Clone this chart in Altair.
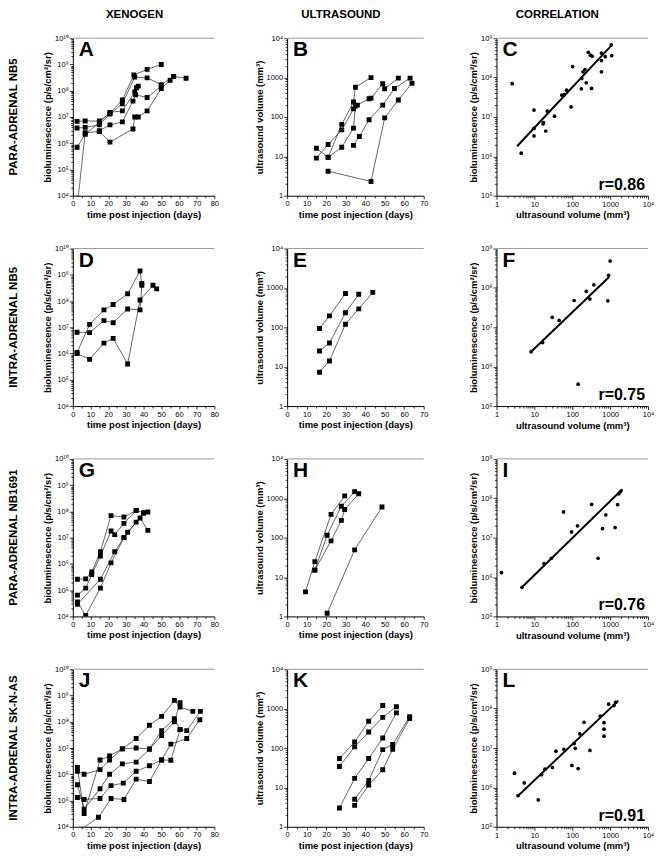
import altair as alt
import pandas as pd

FONT = "Liberation Sans"
W_XENO, W_US, W_COR = 142, 137, 152
H = 158

BIO_TITLE = "bioluminescence (p/s/cm²/sr)"
US_TITLE = "ultrasound volume (mm³)"
TIME_TITLE = "time post injection (days)"

HEADERS = ["XENOGEN", "ULTRASOUND", "CORRELATION"]
ROW_LABELS = ["PARA-ADRENAL NB5", "INTRA-ADRENAL NB5", "PARA-ADRENAL NB1691", "INTRA-ADRENAL SK-N-AS"]
LETTERS = ["A", "B", "C", "D", "E", "F", "G", "H", "I", "J", "K", "L"]
R_TEXT = ["r=0.86", "r=0.75", "r=0.76", "r=0.91"]

# ---------------- Row 1: para-adrenal NB5 ----------------
A_days = [
    [2.4, 7, 15, 21, 28, 34.5, 42, 50],
    [2.4, 7, 15, 21, 28, 35, 42, 50, 57, 64],
    [2.4, 7, 15, 21, 28, 35, 36, 37],
    [3, 7, 15, 21, 34, 35, 37, 42, 50, 55, 57],
    [15, 21, 28, 34, 35.5, 42, 50],
]
A_bio = [
    [6.8e6, 7e6, 7e6, 1.4e7, 4.5e7, 4e8, 6.5e8, 1e9],
    [3.8e6, 4e6, 5e6, 1.3e7, 3.2e7, 3.3e8, 3.1e8, 1.7e8, 3.5e8, 3e8],
    [7e5, 2.2e6, 6e6, 1.5e7, 1.7e7, 9e7, 1.3e8, 1.5e8],
    [8e3, 2.5e6, 2.8e6, 1.1e6, 3.5e6, 1e7, 1e7, 1.7e7, 1.2e8, 2.5e8, 3.5e8],
    [3e6, 5e6, 6.5e6, 4e7, 7e7, 5.5e7, 1.5e8],
]
B_days = [
    [15, 21, 28, 34, 35, 43],
    [15, 21, 28, 34, 36, 42, 43, 49, 50, 57],
    [21, 28, 34, 35],
    [34, 37, 42, 49, 55, 63],
    [21, 43, 50, 57, 64],
]
B_vol = [
    [16, 9.4, 65, 240, 570, 1000],
    [9, 20, 47, 160, 200, 290, 300, 700, 520, 970],
    [9.5, 17, 52, 190],
    [19, 32, 85, 200, 530, 970],
    [4.2, 2.3, 95, 270, 720],
]
C_us = [2.6, 4.5, 9.8, 9.8, 9.8, 17, 17.5, 20, 22, 34, 53, 62, 71, 93, 102,
        174, 178, 192, 216, 234, 323, 265, 300, 335, 590, 590, 590, 740, 1070, 1100]
C_bio = [7e7, 1.2e6, 1.5e7, 5.1e6, 3.3e6, 6.7e6, 7.2e6, 4.4e6, 1.4e7, 1.05e7, 3.6e7, 3.7e7, 4.8e7, 1.8e7, 1.9e8,
         5.2e7, 9.5e7, 1.4e8, 1.6e8, 7.4e7, 5.3e7, 4.4e8, 3.7e8, 3.5e8, 4.2e8, 2.7e8, 1.4e8, 3.4e8, 6.8e8, 3.6e8]
C_fit_us = [3.5, 1150]
C_fit_bio = [1.8e6, 7e8]

# ---------------- Row 2: intra-adrenal NB5 ----------------
D_days = [
    [2.4, 9.5, 17.6, 22.8, 31, 38, 39],
    [2.4, 9.5, 17.6, 22.8, 31, 38, 39],
    [2.4, 9.5, 17.6, 22.8, 31, 38, 45.3, 47.4],
]
D_bio = [
    [1.1e6, 1.3e7, 4.6e7, 7.4e7, 1.9e8, 1.4e9, 4.7e8],
    [6.5e6, 6.3e6, 1.8e7, 1.5e7, 5e7, 4.6e7, 4e8],
    [1e6, 6e5, 2.5e6, 3.8e6, 4e5, 1.1e8, 4e8, 2.9e8],
]
E_days = [[16.6, 21.7, 29.9], [16.6, 21.7, 29.9, 36.7], [16.6, 21.7, 29.9, 36.7, 43.9]]
E_vol = [[93, 195, 720], [25, 40, 235, 690], [7.2, 14, 120, 295, 770]]
F_us = [8.2, 16.5, 29.5, 45, 112, 143, 235, 293, 372, 870, 910, 1000]
F_bio = [2.4e6, 4.1e6, 1.8e7, 1.5e7, 4.8e7, 3.6e5, 8.2e7, 5.2e7, 1.2e8, 4.7e7, 2.1e8, 4.8e8]
F_fit_us = [8.2, 940]
F_fit_bio = [2.4e6, 1.9e8]

# ---------------- Row 3: para-adrenal NB1691 ----------------
G_days = [
    [2.6, 7.3, 10.7, 15.6, 21.6, 28.9, 35.8, 40, 42.4],
    [2.6, 7.3, 10.7, 15.6, 21.6, 23.7, 28.9, 35.8],
    [2.6, 7.3, 15.6, 21.6, 28.9, 31, 38, 42.4],
    [2.6, 15.6, 23.7, 28.9, 35.8, 40],
]
G_bio = [
    [2.6e5, 2.7e5, 4.9e5, 2.9e6, 6.9e7, 6.1e7, 1.1e8, 8.7e7, 9.5e7],
    [6.5e4, 1.2e5, 3.9e5, 2e6, 1.8e7, 1.3e7, 3.5e7, 1.1e8],
    [3.6e4, 1.1e4, 1.2e5, 1.1e6, 1e7, 1.6e7, 5.6e7, 1.9e7],
    [2.9e4, 2.6e5, 2.9e6, 1e7, 3.9e7, 8.7e7],
]
H_days = [[9.4, 14.2, 22.5, 29.5], [14.2, 20.5, 27.8, 34.6], [14.2, 22.5, 27.8, 29.5, 36.7], [20.5, 34.6, 48.6]]
H_vol = [[4.2, 24.6, 390, 1150], [15, 115, 630, 1480], [15, 83, 275, 520, 1300], [1.2, 49, 600]]
I_us = [1.35, 4.7, 18, 28, 59, 96, 138, 325, 480, 630, 770, 1350, 1580, 1700, 1900]
I_bio = [1.3e6, 5.5e5, 2.2e6, 3e6, 4.5e7, 1.4e7, 2e7, 7e7, 3e6, 1.7e7, 3.8e7, 1.8e7, 6.9e7, 1.3e8, 1.5e8]
I_fit_us = [4.7, 2100]
I_fit_bio = [5.5e5, 1.7e8]

# ---------------- Row 4: intra-adrenal SK-N-AS ----------------
J_days = [
    [2.6, 6.4, 15.4, 20.8, 28, 35.8, 43.3, 50.2, 57.4, 60.6, 67.8],
    [2.6, 6.4, 15.4, 20.8, 28, 35.8, 43.3, 50.2, 57.4, 60.6],
    [2.6, 6.4, 15.4, 20.8, 28, 35.8, 43.3, 50.2, 57.4, 60.6],
    [2.6, 6.4, 15.4, 21.6, 28.5, 35.8, 43.3, 50.2, 55.4, 64.4, 71.8],
    [4.8, 14.5, 21.6, 28.9, 35.8, 43.3, 50.2, 55.4, 60.6, 64.4, 72.1],
]
J_bio = [
    [1.3e6, 1e6, 1.5e6, 3.5e6, 9.3e6, 2.3e7, 7.4e7, 1.6e8, 6.5e8, 3.6e8, 2.5e8],
    [1.8e6, 3.2e4, 3.5e6, 5e6, 9.3e6, 1e7, 9.3e6, 4.6e7, 1.3e8, 5e7],
    [4e5, 4.7e4, 2.8e5, 1e6, 2.5e6, 2.9e6, 9e6, 3e7, 1e8, 5.3e8],
    [1.3e5, 1.1e5, 1.2e5, 3.7e5, 4.6e5, 1.3e6, 2.1e6, 3.5e6, 1.4e7, 2.3e7, 1.2e8],
    [8e3, 2.3e4, 1.2e5, 1.1e5, 6.5e5, 5.3e5, 3.5e6, 3.4e6, 5e7, 4.6e7, 2.5e8],
]
K_days = [[26.8, 34.6, 41.8, 49], [26.8, 34.6, 41.8, 49, 56], [26.8, 34.6, 41.8, 49, 56],
          [34.6, 41.8, 49, 54.1, 62.8], [34.6, 41.8, 49, 54.1, 62.8]]
K_vol = [[54, 142, 480, 1200], [34, 107, 255, 600, 1120], [3, 17, 54, 180, 780],
         [5, 15, 91, 123, 620], [3.5, 11.5, 28, 93, 560]]
L_us = [3.0, 3.7, 5.4, 12.7, 15.5, 19, 30, 37, 60, 98, 112, 120, 143, 158, 205, 293, 550, 690, 690, 690, 910, 1260, 1400]
L_bio = [2.3e6, 6.2e5, 1.3e6, 4.8e5, 2.1e6, 2.9e6, 3.2e6, 8.3e6, 9.3e6, 3.6e6, 1.3e7, 9.8e6, 3e6, 2.3e7,
         4.5e7, 8.7e6, 6.5e7, 4.4e7, 3e7, 2e7, 1.3e8, 1.2e8, 1.45e8]
L_fit_us = [3.5, 1650]
L_fit_bio = [5.8e5, 1.6e8]

# ---------------- axes helpers ----------------
AX = dict(grid=False, domainColor="black", tickColor="black", domainWidth=1, tickWidth=0.8,
          labelFont=FONT, labelFontSize=7.5, labelColor="black", labelPadding=1,
          labelOverlap=False, labelFlush=False, titlePadding=2,
          titleFont=FONT, titleFontSize=9.5, titleFontWeight="bold", titleColor="black")

SUP = "['⁰','¹','²','³','⁴','⁵','⁶','⁷','⁸','⁹','¹⁰']"
LG = "(log(datum.value)/LN10)"
IS_MAJOR = f"abs({LG} - round({LG})) < 0.001"


def log_ticks(lo, hi):
    vals = []
    for e in range(lo, hi):
        for m in range(1, 10):
            vals.append(float(m * 10 ** e))
    vals.append(float(10 ** hi))
    return vals


def log_axis(lo, hi, title, style):
    if style == "pow":
        lab = f"{IS_MAJOR} ? '10' + {SUP}[round({LG})] : ''"
    else:
        lab = f"{IS_MAJOR} ? (datum.value >= 10000 ? '10⁴' : format(datum.value, 'd')) : ''"
    return alt.Axis(values=log_ticks(lo, hi), labelExpr=lab, title=title,
                    tickSize={"condition": {"test": IS_MAJOR, "value": 3.5}, "value": 2}, **AX)


def lin_axis(hi, title):
    return alt.Axis(values=list(range(0, hi + 1, 5)),
                    labelExpr="datum.value % 10 == 0 ? datum.label : ''",
                    tickSize={"condition": {"test": "datum.value % 10 == 0", "value": 3}, "value": 2},
                    title=title, **AX)


def text_layer(txt, x, y, size, align="left", baseline="top", angle=0):
    return alt.Chart(pd.DataFrame({"t": [txt]})).mark_text(
        font=FONT, fontSize=size, fontWeight="bold", align=align, baseline=baseline,
        angle=angle, color="black").encode(text="t:N", x=alt.value(x), y=alt.value(y))


def top_rule(W):
    return alt.Chart(pd.DataFrame({"t": [0]})).mark_rule(color="#9a9a9a", strokeWidth=1).encode(
        x=alt.value(0), x2=alt.value(W), y=alt.value(0))


def decorations(W, letter, header=None, hx=0, rowlabel=None, rtxt=None):
    out = [text_layer(letter, 6, 1, 21)]
    if header:
        out.append(text_layer(header, hx, -23, 11.5, align="center", baseline="middle"))
    if rowlabel:
        out.append(text_layer(rowlabel, -59, H / 2, 11.5, align="center", baseline="middle", angle=270))
    if rtxt:
        out.append(text_layer(rtxt, W - 3, H - 6, 16, align="right", baseline="alphabetic"))
    return out


def time_panel(days, vals, kind, letter, header=None, hx=0, rowlabel=None):
    recs = []
    for i, (ds, vs) in enumerate(zip(days, vals)):
        for j, (d, v) in enumerate(zip(ds, vs)):
            recs.append({"m": i, "o": j, "day": d, "v": v})
    df = pd.DataFrame(recs)
    if kind == "xeno":
        W, xmax, lo, hi, style, yt = W_XENO, 80, 4, 10, "pow", BIO_TITLE
    else:
        W, xmax, lo, hi, style, yt = W_US, 70, 0, 4, "plain", US_TITLE
    x = alt.X("day:Q", scale=alt.Scale(domain=[0, xmax], nice=False, zero=False), axis=lin_axis(xmax, TIME_TITLE))
    y = alt.Y("v:Q", scale=alt.Scale(type="log", domain=[10 ** lo, 10 ** hi], nice=False),
              axis=log_axis(lo, hi, yt, style))
    base = alt.Chart(df)
    layers = [
        top_rule(W),
        base.mark_line(color="black", strokeWidth=0.6, clip=True).encode(x=x, y=y, detail="m:N", order="o:Q"),
        base.mark_square(color="black", size=24, opacity=1, clip=True).encode(x=x, y=y),
    ] + decorations(W, letter, header, hx, rowlabel)
    return alt.layer(*layers).properties(width=W, height=H)


def corr_panel(us, bio, fit_us, fit_bio, letter, rtxt, header=None, hx=0):
    df = pd.DataFrame({"us": us, "bio": bio})
    fd = pd.DataFrame({"us": fit_us, "bio": fit_bio})
    x = alt.X("us:Q", scale=alt.Scale(type="log", domain=[1, 1e4], nice=False),
              axis=log_axis(0, 4, US_TITLE, "plain"))
    y = alt.Y("bio:Q", scale=alt.Scale(type="log", domain=[1e5, 1e9], nice=False),
              axis=log_axis(5, 9, BIO_TITLE, "pow"))
    layers = [
        top_rule(W_COR),
        alt.Chart(fd).mark_line(color="black", strokeWidth=2, clip=True).encode(x=x, y=y),
        alt.Chart(df).mark_circle(color="black", size=14, opacity=1, clip=True).encode(x=x, y=y),
    ] + decorations(W_COR, letter, header, hx, None, rtxt)
    return alt.layer(*layers).properties(width=W_COR, height=H)


panels = [
    time_panel(A_days, A_bio, "xeno", "A", HEADERS[0], 62, ROW_LABELS[0]),
    time_panel(B_days, B_vol, "us", "B", HEADERS[1], 54),
    corr_panel(C_us, C_bio, C_fit_us, C_fit_bio, "C", R_TEXT[0], HEADERS[2], 61),
    time_panel(D_days, D_bio, "xeno", "D", rowlabel=ROW_LABELS[1]),
    time_panel(E_days, E_vol, "us", "E"),
    corr_panel(F_us, F_bio, F_fit_us, F_fit_bio, "F", R_TEXT[1]),
    time_panel(G_days, G_bio, "xeno", "G", rowlabel=ROW_LABELS[2]),
    time_panel(H_days, H_vol, "us", "H"),
    corr_panel(I_us, I_bio, I_fit_us, I_fit_bio, "I", R_TEXT[2]),
    time_panel(J_days, J_bio, "xeno", "J", rowlabel=ROW_LABELS[3]),
    time_panel(K_days, K_vol, "us", "K"),
    corr_panel(L_us, L_bio, L_fit_us, L_fit_bio, "L", R_TEXT[3]),
]

chart = alt.concat(
    *panels, columns=3,
    spacing=alt.RowColnumber(row=53, column=73),
    bounds="flush", align="each",
).resolve_scale(x="independent", y="independent").properties(
    padding=0, background="white"
).configure_view(stroke=None)

chart.save("out.html", embed_options={"renderer": "svg", "actions": False})
